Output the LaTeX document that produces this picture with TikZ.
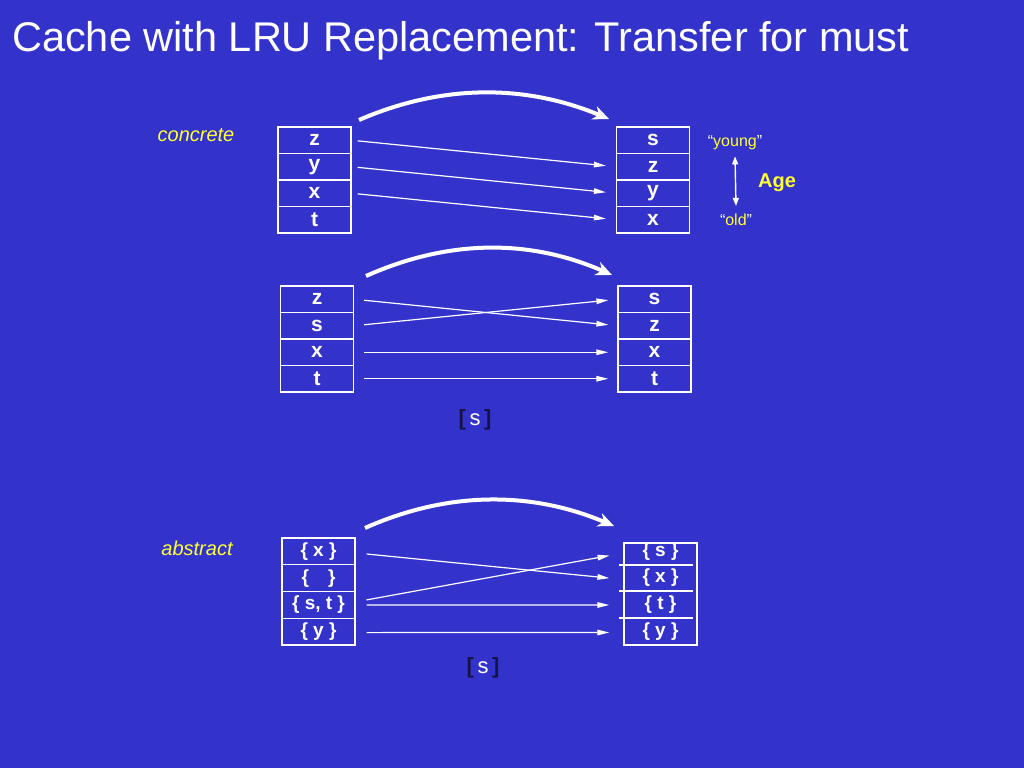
\documentclass[tikz,border=0pt]{standalone}
\usepackage{fontspec}
\setmainfont{Liberation Sans}
\usetikzlibrary{arrows.meta,calc}
\definecolor{bg}{RGB}{51,51,204}
\definecolor{ylw}{RGB}{255,255,51}
\definecolor{brk}{RGB}{20,20,70}
\tikzset{
  cell/.style={draw=white, line width=1.3pt, minimum width=73pt, minimum height=26.5pt,
    inner sep=0pt, text=white, font=\fontsize{21}{21}\selectfont\bfseries},
  acell/.style={cell, minimum height=26.75pt, font=\fontsize{19}{19}\selectfont\bfseries},
  tcell/.style={acell, draw=none},
  thin/.style={draw=white, line width=1.2pt, -{Triangle[length=12pt,width=5.5pt]}},
  bigarrow/.style={draw=white, line width=4pt, -{Stealth[length=16pt,width=14pt,inset=5pt]}},
  lbl/.style={text=ylw, inner sep=0pt, font=\fontsize{20}{20}\selectfont\itshape},
  agelbl/.style={text=ylw, inner sep=0pt, font=\fontsize{16}{16}\selectfont},
  subst/.style={text=white, inner sep=0pt, font=\fontsize{22}{22}\selectfont},
}
\begin{document}
\begin{tikzpicture}[x=1pt,y=-1pt]
\useasboundingbox (0,0) rectangle (1024,768);
\fill[bg] (0,0) rectangle (1024,768);

% title
\node[anchor=base west, inner sep=0pt, text=white, font=\fontsize{41.5}{41.5}\selectfont] (title) at (12,52) {Cache with LRU Replacement: Transfer for must};

% labels
\node[lbl] (concrete) at (196,135) {concrete};
\node[lbl] (abstract) at (197,548) {abstract};

% concrete block
\node[cell] (cl1) at (314.5,140.25) {z};
\node[cell] (cl2) at (314.5,166.75) {y};
\node[cell] (cl3) at (314.5,193.25) {x};
\node[cell] (cl4) at (314.5,219.75) {t};
\node[cell] (cr1) at (653,140.25) {s};
\node[cell] (cr2) at (653,166.75) {z};
\node[cell] (cr3) at (653,193.25) {y};
\node[cell] (cr4) at (653,219.75) {x};
\draw[thin, shorten <=6pt, shorten >=10pt] (cl1.east) -- (cr2.west);
\draw[thin, shorten <=6pt, shorten >=10pt] (cl2.east) -- (cr3.west);
\draw[thin, shorten <=6pt, shorten >=10pt] (cl3.east) -- (cr4.west);
\coordinate (b1s) at (359,120);
\coordinate (b1e) at (609,119);
\draw[bigarrow] (b1s) .. controls (442,84) and (525,84) .. (b1e);

% age
\node[agelbl] (young) at (735,143) {{\color{white}“}young{\color{white}”}};
\node[agelbl] (old) at (736,220) {{\color{white}“}old{\color{white}”}};
\node[text=ylw, inner sep=0pt, font=\fontsize{20}{20}\selectfont\bfseries] (age) at (777,183) {Age};
\draw[white, line width=1.4pt, {Triangle[length=8pt,width=6pt]}-{Triangle[length=8pt,width=6pt]}] ([yshift=-6pt]young.south) -- ([yshift=8pt]old.north);

% middle block
\node[cell] (ml1) at (317,299.25) {z};
\node[cell] (ml2) at (317,325.75) {s};
\node[cell] (ml3) at (317,352.25) {x};
\node[cell] (ml4) at (317,378.75) {t};
\node[cell] (mr1) at (654.5,299.25) {s};
\node[cell] (mr2) at (654.5,325.75) {z};
\node[cell] (mr3) at (654.5,352.25) {x};
\node[cell] (mr4) at (654.5,378.75) {t};
\draw[thin, shorten <=10pt, shorten >=9pt] (ml1.east) -- (mr2.west);
\draw[thin, shorten <=10pt, shorten >=9pt] (ml2.east) -- (mr1.west);
\draw[thin, shorten <=10pt, shorten >=9pt] (ml3.east) -- (mr3.west);
\draw[thin, shorten <=10pt, shorten >=9pt] (ml4.east) -- (mr4.west);
\coordinate (b2s) at (366,276);
\coordinate (b2e) at (612,275);
\draw[bigarrow] (b2s) .. controls (449,239) and (530,239) .. (b2e);
\node[subst] (s1) at (475,420) {{\color{brk}\bfseries[}\,s\,{\color{brk}\bfseries]}};

% abstract block
\node[acell] (al1) at (318.5,551.4) {\{ x \}};
\node[acell] (al2) at (318.5,578.1) {\{\quad\}};
\node[acell] (al3) at (318.5,604.9) {\{ s, t \}};
\node[acell] (al4) at (318.5,631.6) {\{ y \}};
\node[draw=white, line width=1.3pt, minimum width=73pt, minimum height=102pt, inner sep=0pt] (arbox) at (660.5,594) {};
\node[tcell] (ar1) at (660.5,552) {\{ s \}};
\node[tcell] (ar2) at (660.5,578) {\{ x \}};
\node[tcell] (ar3) at (660.5,605) {\{ t \}};
\node[tcell] (ar4) at (660.5,631.5) {\{ y \}};
\draw[white, line width=1.3pt] (619,565) -- (693,565);
\draw[white, line width=1.3pt] (619,591) -- (693,591);
\draw[white, line width=1.3pt] (619,618) -- (693,618);
\draw[thin, shorten <=11pt, shorten >=14pt] ([yshift=-1.5pt]al1.east) -- ([yshift=-1.5pt]ar2.west);
\draw[thin, shorten <=11pt, shorten >=14pt] ([yshift=3pt]al3.east) -- ([yshift=-1pt]ar1.west);
\draw[thin, shorten <=11pt, shorten >=14pt] ([yshift=0pt]al3.east) -- ([yshift=0pt]ar3.west);
\draw[thin, shorten <=11pt, shorten >=14pt] ([yshift=-1pt]al4.east) -- ([yshift=-1pt]ar4.west);
\coordinate (b3s) at (365,528);
\coordinate (b3e) at (614,526);
\draw[bigarrow] (b3s) .. controls (448,491) and (531,491) .. (b3e);
\node[subst] (s2) at (483,668) {{\color{brk}\bfseries[}\,s\,{\color{brk}\bfseries]}};
\end{tikzpicture}
\end{document}
